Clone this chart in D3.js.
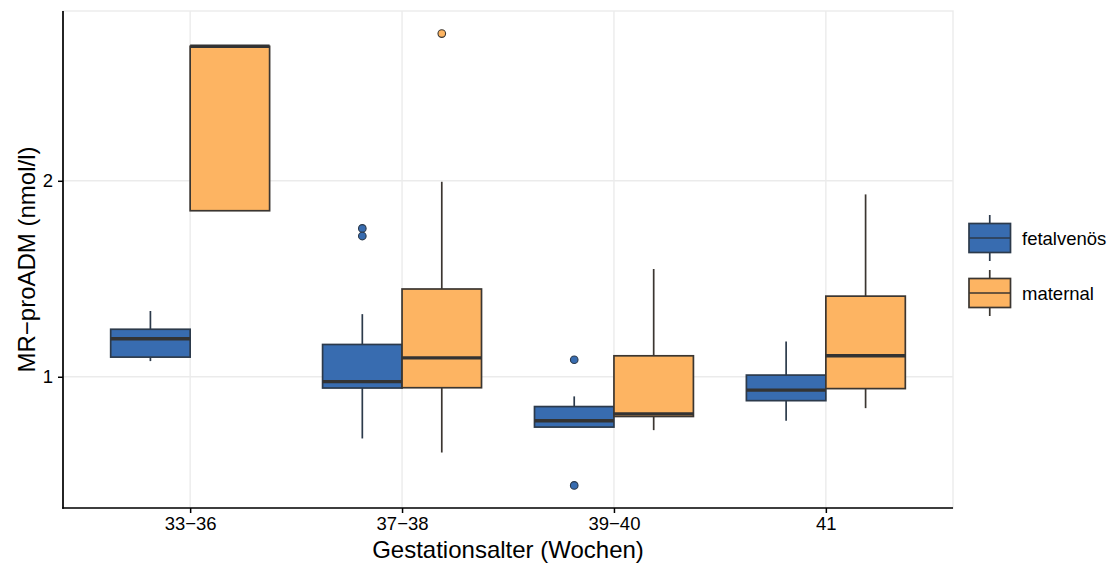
<!DOCTYPE html>
<html><head><meta charset="utf-8">
<script src="https://cdn.jsdelivr.net/npm/d3@7"></script>
<style>
body{margin:0;background:#fff}
text{font-family:"Liberation Sans",Arial,Helvetica,sans-serif;fill:#000}
</style>
</head><body>
<svg id="chart" width="1113" height="566"></svg>
<script>
// Gestational age groups
const categories = ["33\u221236", "37\u221238", "39\u221240", "41"];
const seriesNames = ["fetalvenös", "maternal"];
const seriesColors = ["#386CB0", "#FDB462"];
const seriesStrokes = ["#2C3A4B", "#3B3631"];

// Box summaries per group: [lower whisker, q1, median, q3, upper whisker]
const fetalvenosStats = [
  [1.057, 1.072, 1.144, 1.183, 1.262],
  [0.804, 0.961, 0.983, 1.121, 1.248],
  [0.837, 0.837, 0.856, 0.900, 0.933],
  [0.856, 0.919, 0.954, 1.006, 1.133]
];
const fetalvenosOutliers = [[], [1.690, 1.645], [1.062, 0.681], []];

const maternalStats = [
  [1.799, 1.799, 3.218, 3.218, 3.218],
  [0.765, 0.962, 1.069, 1.364, 1.993],
  [0.828, 0.869, 0.877, 1.077, 1.464],
  [0.895, 0.959, 1.077, 1.330, 1.906]
];
const maternalOutliers = [[], [3.366], [], []];

const yTicks = [1, 2];
const xTitle = "Gestationsalter (Wochen)";
const yTitle = "MR\u2212proADM (nmol/l)";

const series = [
  {name: seriesNames[0], stats: fetalvenosStats, outliers: fetalvenosOutliers, fill: seriesColors[0], stroke: seriesStrokes[0]},
  {name: seriesNames[1], stats: maternalStats, outliers: maternalOutliers, fill: seriesColors[1], stroke: seriesStrokes[1]}
];

const panel = {left: 63, right: 953, top: 11, bottom: 508};
const svg = d3.select("#chart");
const font = '"Liberation Sans",Arial,sans-serif';

// y: log scale, domain padded by 5% of the log range on each side
const allVals = [];
series.forEach(s => {
  s.stats.forEach(r => allVals.push(...r));
  s.outliers.forEach(o => allVals.push(...o));
});
const lo = Math.log2(d3.min(allVals)), hi = Math.log2(d3.max(allVals));
const pad = (hi - lo) * 0.05;
const y = d3.scaleLog().base(2)
  .domain([Math.pow(2, lo - pad), Math.pow(2, hi + pad)])
  .range([panel.bottom, panel.top]);

const x = d3.scalePoint().domain(categories)
  .range([panel.left, panel.right]).padding(0.6);
const step = x.step();
const dodge = d3.scaleBand().domain(seriesNames)
  .range([-0.375 * step, 0.375 * step]);

// panel grid and light border
const gridCol = "#EBEBEB";
svg.append("rect")
  .attr("x", panel.left).attr("y", panel.top)
  .attr("width", panel.right - panel.left).attr("height", panel.bottom - panel.top)
  .attr("fill", "none").attr("stroke", gridCol).attr("stroke-width", 1.4);
svg.append("g").selectAll("line").data(yTicks).join("line")
  .attr("x1", panel.left).attr("x2", panel.right)
  .attr("y1", d => y(d)).attr("y2", d => y(d))
  .attr("stroke", gridCol).attr("stroke-width", 1.4);
svg.append("g").selectAll("line").data(categories).join("line")
  .attr("x1", d => x(d)).attr("x2", d => x(d))
  .attr("y1", panel.top).attr("y2", panel.bottom)
  .attr("stroke", gridCol).attr("stroke-width", 1.4);

// boxes
series.forEach(s => {
  const g = svg.append("g");
  const bw = dodge.bandwidth();
  const x0 = i => x(categories[i]) + dodge(s.name);
  s.stats.forEach((st, i) => {
    const [wl, q1, med, q3, wh] = st;
    const cx = x0(i) + bw / 2;
    g.append("line").attr("x1", cx).attr("x2", cx)
      .attr("y1", y(q3)).attr("y2", y(wh))
      .attr("stroke", s.stroke).attr("stroke-width", 1.7);
    g.append("line").attr("x1", cx).attr("x2", cx)
      .attr("y1", y(q1)).attr("y2", y(wl))
      .attr("stroke", s.stroke).attr("stroke-width", 1.7);
    g.append("rect")
      .attr("x", x0(i)).attr("y", y(q3))
      .attr("width", bw).attr("height", y(q1) - y(q3))
      .attr("fill", s.fill).attr("stroke", s.stroke).attr("stroke-width", 1.7);
    g.append("line").attr("x1", x0(i)).attr("x2", x0(i) + bw)
      .attr("y1", y(med)).attr("y2", y(med))
      .attr("stroke", "#333333").attr("stroke-width", 3.4);
    s.outliers[i].forEach(v => {
      g.append("circle").attr("cx", cx).attr("cy", y(v)).attr("r", 3.8)
        .attr("fill", s.fill).attr("stroke", s.stroke).attr("stroke-width", 1.1);
    });
  });
});

// axes
const yAxis = d3.axisLeft(y).tickValues(yTicks).tickFormat(d3.format("d")).tickSize(5).tickPadding(5);
const gy = svg.append("g").attr("transform", `translate(${panel.left},0)`).call(yAxis);
const xAxis = d3.axisBottom(x).tickSize(5).tickPadding(4);
const gx = svg.append("g").attr("transform", `translate(0,${panel.bottom})`).call(xAxis);
[gx, gy].forEach(g => {
  g.select(".domain").remove();
  g.selectAll(".tick line").attr("stroke", "#000").attr("stroke-width", 1.5);
  g.selectAll(".tick text").attr("fill", "#000").style("font-size", "18.5px")
    .style("font-family", font);
});
svg.append("line").attr("x1", panel.left).attr("x2", panel.left)
  .attr("y1", panel.top).attr("y2", panel.bottom + 0.8)
  .attr("stroke", "#000").attr("stroke-width", 1.7);
svg.append("line").attr("x1", panel.left - 0.8).attr("x2", panel.right)
  .attr("y1", panel.bottom).attr("y2", panel.bottom)
  .attr("stroke", "#000").attr("stroke-width", 1.7);

// titles
svg.append("text").attr("x", (panel.left + panel.right) / 2).attr("y", 558)
  .attr("text-anchor", "middle").style("font-size", "24px").text(xTitle);
svg.append("text").attr("transform", `translate(35,${(panel.top + panel.bottom) / 2}) rotate(-90)`)
  .attr("text-anchor", "middle").style("font-size", "24px").text(yTitle);

// legend
const leg = svg.append("g").attr("transform", "translate(969,0)");
series.forEach((s, i) => {
  const top = 223.5 + i * 55, h = 29, w = 41.5, cx = w / 2;
  leg.append("line").attr("x1", cx).attr("x2", cx).attr("y1", top - 8.5).attr("y2", top + h + 8.5)
    .attr("stroke", s.stroke).attr("stroke-width", 1.7);
  leg.append("rect").attr("x", 0).attr("y", top).attr("width", w).attr("height", h)
    .attr("fill", s.fill).attr("stroke", s.stroke).attr("stroke-width", 1.7);
  leg.append("line").attr("x1", 0).attr("x2", w).attr("y1", top + h / 2).attr("y2", top + h / 2)
    .attr("stroke", s.stroke).attr("stroke-width", 1.7);
  leg.append("text").attr("x", 53).attr("y", top + h / 2).attr("dy", "0.36em")
    .style("font-size", "18.5px").text(s.name);
});
</script>
</body></html>
